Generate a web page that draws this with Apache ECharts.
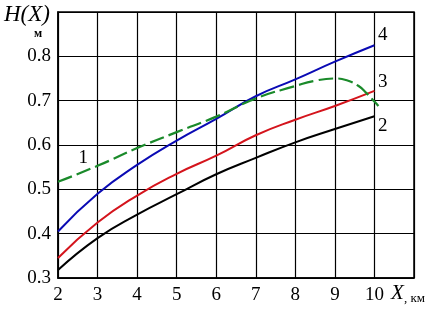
<!DOCTYPE html>
<html><head><meta charset="utf-8">
<script src="https://cdn.jsdelivr.net/npm/echarts@6/dist/echarts.min.js"></script>
<style>html,body{margin:0;padding:0;background:#fff}#c{width:443px;height:310px}</style>
</head><body><div id="c"></div>
<script>
const xTicks = [2,3,4,5,6,7,8,9,10];
const yTicks = [0.3,0.4,0.5,0.6,0.7,0.8];
const xs = [2,3,4,5,6,7,8,9,10];
const curve2 = [0.318,0.39,0.443,0.489,0.534,0.571,0.606,0.636,0.665];
const curve3 = [0.345,0.425,0.486,0.535,0.576,0.622,0.657,0.688,0.722];
const curve4 = [0.405,0.49,0.555,0.61,0.659,0.71,0.748,0.788,0.825];
const xs1 = [2,3,4,5,6,7,8,8.5,9,9.3,9.6,9.8,10,10.1];
const curve1 = [0.517,0.553,0.593,0.629,0.664,0.705,0.733,0.745,0.75,0.746,0.733,0.717,0.698,0.688];
const curveLabels = [
  {name:'1', coord:[2.64,0.57]},
  {name:'2', coord:[10.21,0.642]},
  {name:'3', coord:[10.21,0.742]},
  {name:'4', coord:[10.21,0.848]}
];
const pair = (x, y) => x.map((v,i)=>[v,y[i]]);
const font = 'Liberation Serif';
const chart = echarts.init(document.getElementById('c'));
chart.setOption({
  animation:false,
  backgroundColor:'#fff',
  grid:{left:58,right:29,top:12,bottom:32,show:true,borderColor:'#000',borderWidth:1.5,backgroundColor:'transparent'},
  xAxis:{type:'value',min:2,max:11,interval:1,
    axisLine:{show:true,lineStyle:{color:'#000',width:1.5}},
    axisTick:{show:false},
    splitLine:{show:true,lineStyle:{color:'#000',width:1.2}},
    axisLabel:{color:'#000',fontFamily:font,fontSize:19,margin:8,
      formatter:v=>xTicks.includes(v)?String(v):''}},
  yAxis:{type:'value',min:0.3,max:0.9,interval:0.1,
    axisLine:{show:true,lineStyle:{color:'#000',width:1.5}},
    axisTick:{show:false},
    splitLine:{show:true,lineStyle:{color:'#000',width:1.2}},
    axisLabel:{color:'#000',fontFamily:font,fontSize:19,margin:7,
      formatter:v=>{const r=Math.round(v*10)/10;return yTicks.includes(r)?r.toFixed(1):'';}}},
  graphic:[
    {type:'text',left:4,top:3,style:{text:'H(X)',font:'italic 23px "Liberation Serif"',fill:'#000'}},
    {type:'text',left:34,top:28,style:{text:'м',font:'bold 12px "Liberation Serif"',fill:'#000'}},
    {type:'text',left:391,top:283,style:{text:'X',font:'italic 21px "Liberation Serif"',fill:'#000'}},
    {type:'text',left:404,top:292,style:{text:', км',font:'13px "Liberation Serif"',fill:'#000'}}
  ],
  series:[
    {type:'line',data:pair(xs,curve2),smooth:true,showSymbol:false,lineStyle:{color:'#000',width:2},z:3},
    {type:'line',data:pair(xs,curve3),smooth:true,showSymbol:false,lineStyle:{color:'#d4141c',width:2},z:3},
    {type:'line',data:pair(xs,curve4),smooth:true,showSymbol:false,lineStyle:{color:'#0a0ab4',width:2},z:3},
    {type:'line',data:pair(xs1,curve1),smooth:true,showSymbol:false,lineStyle:{color:'#1a8a2a',width:2.2,type:[15,5]},z:4,
      markPoint:{symbol:'circle',symbolSize:0,silent:true,
        label:{show:true,position:'inside',formatter:'{b}',color:'#000',fontFamily:font,fontSize:19},
        data:curveLabels}}
  ]
});
</script></body></html>
